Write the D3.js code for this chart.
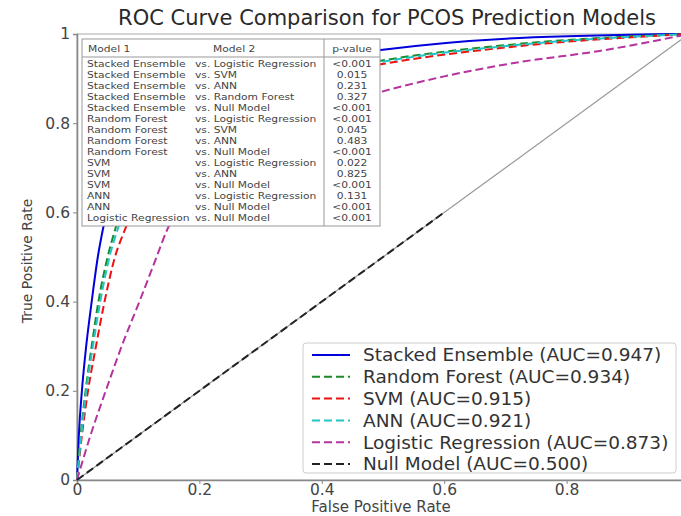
<!DOCTYPE html>
<html>
<head>
<meta charset="utf-8">
<script src="https://cdn.jsdelivr.net/npm/d3@7"></script>
<style>
  body { margin: 0; background: #fff; }
  text { font-family: "DejaVu Sans", sans-serif; }
</style>
</head>
<body>
<script>
// ROC data
var modelNames = ["Stacked Ensemble", "Random Forest", "SVM", "ANN", "Logistic Regression", "Null Model"];
var aucValues = [0.947, 0.934, 0.915, 0.921, 0.873, 0.500];

var stackedFpr = [0, 0.003, 0.008, 0.015, 0.024, 0.034, 0.042, 0.08, 0.15, 0.30, 0.496, 0.723, 1];
var stackedTpr = [0, 0.10, 0.20, 0.30, 0.40, 0.50, 0.56, 0.72, 0.83, 0.92, 0.964, 0.991, 1];
var forestFpr = [0, 0.006, 0.014, 0.024, 0.035, 0.050, 0.062, 0.10, 0.20, 0.35, 0.496, 0.723, 1];
var forestTpr = [0, 0.10, 0.20, 0.30, 0.40, 0.50, 0.56, 0.69, 0.82, 0.90, 0.940, 0.978, 1];
var svmFpr = [0, 0.008, 0.018, 0.031, 0.045, 0.062, 0.078, 0.12, 0.22, 0.35, 0.496, 0.723, 1];
var svmTpr = [0, 0.10, 0.20, 0.30, 0.40, 0.50, 0.56, 0.68, 0.81, 0.89, 0.932, 0.973, 1];
var annFpr = [0, 0.007, 0.015, 0.026, 0.038, 0.053, 0.066, 0.11, 0.21, 0.35, 0.496, 0.723, 1];
var annTpr = [0, 0.10, 0.20, 0.30, 0.40, 0.50, 0.56, 0.69, 0.815, 0.895, 0.937, 0.976, 1];
var logregFpr = [0, 0.022, 0.047, 0.073, 0.102, 0.130, 0.147, 0.20, 0.30, 0.40, 0.496, 0.60, 0.723, 0.854, 1];
var logregTpr = [0, 0.10, 0.20, 0.30, 0.40, 0.50, 0.56, 0.65, 0.76, 0.83, 0.870, 0.905, 0.937, 0.962, 1];
var nullFpr = [0, 0.6];
var nullTpr = [0, 0.6];
var diagFpr = [0, 1];
var diagTpr = [0, 1];

// comparison table
var model1List = ["Stacked Ensemble", "Stacked Ensemble", "Stacked Ensemble", "Stacked Ensemble", "Stacked Ensemble",
  "Random Forest", "Random Forest", "Random Forest", "Random Forest",
  "SVM", "SVM", "SVM", "ANN", "ANN", "Logistic Regression"];
var model2List = ["Logistic Regression", "SVM", "ANN", "Random Forest", "Null Model",
  "Logistic Regression", "SVM", "ANN", "Null Model",
  "Logistic Regression", "ANN", "Null Model", "Logistic Regression", "Null Model", "Null Model"];
var pValues = ["<0.001", "0.015", "0.231", "0.327", "<0.001", "<0.001", "0.045", "0.483", "<0.001",
  "0.022", "0.825", "<0.001", "0.131", "<0.001", "<0.001"];

var xTickValues = [0, 0.2, 0.4, 0.6, 0.8];
var yTickValues = [0, 0.2, 0.4, 0.6, 0.8, 1];

// styles per series (same order as modelNames)
var seriesColor = ["#0000dd", "#1a8a2a", "#ee1111", "#22c4c4", "#b5339f", "#222222"];
var seriesDash = [null, "8,4", "8,4", "8,4", "8,4", "8,4"];

var w = 681, h = 516;
var svg = d3.select("body").append("svg")
    .attr("width", w)
    .attr("height", h);

var x = d3.scaleLinear().domain([0, 1]).range([77, 689]);
var y = d3.scaleLinear().domain([0, 1]).range([480, 34]);

var fmt = function(d){ return (d === 0 || d === 1) ? String(d) : d.toFixed(1); };

// top / right frame
svg.append("rect")
    .attr("x", x(0)).attr("y", y(1))
    .attr("width", x(1) - x(0)).attr("height", y(0) - y(1))
    .style("fill", "none").style("stroke", "#aaa").style("stroke-width", 1);

var xAxis = svg.append("g")
    .attr("transform", "translate(0," + y(0) + ")")
    .call(d3.axisBottom(x).tickValues(xTickValues).tickFormat(fmt).tickSize(4).tickPadding(0));
var yAxis = svg.append("g")
    .attr("transform", "translate(" + x(0) + ",0)")
    .call(d3.axisLeft(y).tickValues(yTickValues).tickFormat(fmt).tickSize(4).tickPadding(3));

[xAxis, yAxis].forEach(function(a){
    a.select(".domain").style("stroke", "#888").style("stroke-width", 1.6);
    a.selectAll(".tick line").style("stroke", "#888");
    a.selectAll(".tick text").style("font-size", "15.5px").style("fill", "#444")
      .style("font-family", "DejaVu Sans, sans-serif");
});

// curves
var line = d3.line()
    .x(function(d){ return x(d[0]); })
    .y(function(d){ return y(d[1]); })
    .curve(d3.curveMonotoneX);

var pairs = function(a, b){ return a.map(function(v, i){ return [v, b[i]]; }); };

svg.append("path")
    .datum(pairs(diagFpr, diagTpr))
    .attr("d", line)
    .style("fill", "none").style("stroke", "#999").style("stroke-width", 1.2);

var curveData = [
    pairs(stackedFpr, stackedTpr),
    pairs(forestFpr, forestTpr),
    pairs(svmFpr, svmTpr),
    pairs(annFpr, annTpr),
    pairs(logregFpr, logregTpr),
    pairs(nullFpr, nullTpr)
];

svg.selectAll(".roc")
    .data(curveData)
    .enter()
    .append("path")
      .attr("class", "roc")
      .attr("d", line)
      .style("fill", "none")
      .style("stroke", function(d, i){ return seriesColor[i]; })
      .style("stroke-width", 2)
      .style("stroke-dasharray", function(d, i){ return seriesDash[i]; });

// title and axis labels
svg.append("text")
    .attr("x", 387).attr("y", 25)
    .attr("text-anchor", "middle")
    .style("font-size", "21px").style("fill", "#2a2a2a")
    .text("ROC Curve Comparison for PCOS Prediction Models");

svg.append("text")
    .attr("x", 381).attr("y", 512.3)
    .attr("text-anchor", "middle")
    .style("font-size", "15px").style("fill", "#444")
    .text("False Positive Rate");

svg.append("text")
    .attr("transform", "translate(32,261) rotate(-90)")
    .attr("text-anchor", "middle")
    .style("font-size", "14px").style("fill", "#444")
    .text("True Positive Rate");

// p-value table (text slightly stretched sideways, as in the source image)
var tbl = svg.append("g").attr("class", "ptable");
tbl.append("rect")
    .attr("x", 82).attr("y", 39).attr("width", 298).attr("height", 187)
    .style("fill", "#fff").style("stroke", "#999").style("stroke-width", 1);
tbl.append("line")
    .attr("x1", 82).attr("x2", 380).attr("y1", 57).attr("y2", 57)
    .style("stroke", "#999");
tbl.append("line")
    .attr("x1", 324).attr("x2", 324).attr("y1", 39).attr("y2", 226)
    .style("stroke", "#999");

var stretch = 1.14;
var cell = function(sel, xPos, yPos){
    return sel.attr("transform", "translate(" + xPos + "," + yPos + ") scale(" + stretch + ",1)")
        .style("font-size", "9.4px").style("fill", "#444");
};

var hdr = [["Model 1", 88, "start"], ["Model 2", 213, "start"], ["p-value", 352, "middle"]];
tbl.selectAll(".hdr")
    .data(hdr)
    .enter()
    .append("text")
      .attr("class", "hdr")
      .attr("text-anchor", function(d){ return d[2]; })
      .each(function(d){ cell(d3.select(this), d[1], 52); })
      .text(function(d){ return d[0]; });

model1List.forEach(function(m, i){
    var yy = 67 + i * 11;
    cell(tbl.append("text"), 87, yy).text(m);
    cell(tbl.append("text"), 195, yy).text("vs. " + model2List[i]);
    cell(tbl.append("text"), 352, yy).attr("text-anchor", "middle").text(pValues[i]);
});

// legend
var lg = svg.append("g").attr("class", "legend");
lg.append("rect")
    .attr("x", 303).attr("y", 343).attr("width", 373).attr("height", 130)
    .attr("rx", 3)
    .style("fill", "#fff").style("fill-opacity", 0.85)
    .style("stroke", "#ccc");

var items = lg.selectAll(".item")
    .data(modelNames)
    .enter()
    .append("g")
      .attr("class", "item")
      .attr("transform", function(d, i){ return "translate(0," + (355 + i * 21.8) + ")"; });
items.append("line")
    .attr("x1", 312).attr("x2", 350)
    .style("stroke", function(d, i){ return seriesColor[i]; })
    .style("stroke-width", 2)
    .style("stroke-dasharray", function(d, i){ return seriesDash[i]; });
items.append("text")
    .attr("x", 363).attr("dy", "0.35em")
    .style("font-size", "18.5px").style("fill", "#333")
    .text(function(d, i){ return d + " (AUC=" + aucValues[i].toFixed(3) + ")"; });
</script>
</body>
</html>
